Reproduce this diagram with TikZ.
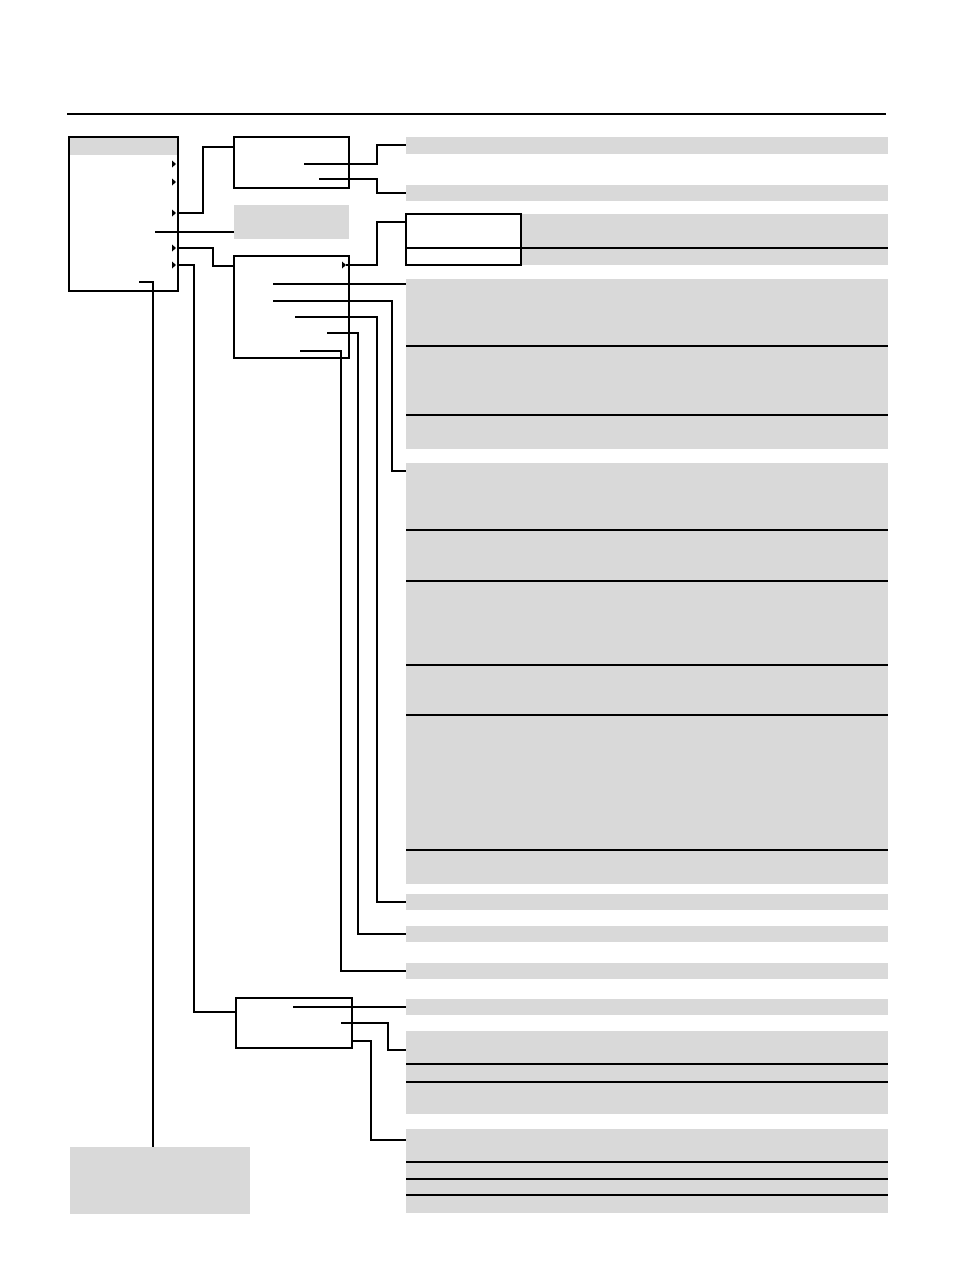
\documentclass[tikz,border=0pt]{standalone}
\usetikzlibrary{calc}
\definecolor{gfill}{HTML}{D9D9D9}
\tikzset{
  gbar/.style={fill=gfill, draw=none, inner sep=0pt, outer sep=0pt, minimum width=482pt},
  gbox/.style={fill=gfill, draw=none, inner sep=0pt, outer sep=0pt},
  obox/.style={draw=black, line width=1.2pt, inner sep=0pt, outer sep=0pt},
  conn/.style={draw=black, line width=1.2pt},
  divider/.style={draw=black, line width=1.2pt},
  tri/.style={fill=black}
}
\newcommand{\rtri}[2]{\fill[tri] (#1,#2-3.5) -- (#1+4,#2) -- (#1,#2+3.5) -- cycle;}
\begin{document}
\begin{tikzpicture}[x=1pt,y=-1pt]
\useasboundingbox (0,0) rectangle (954,1274);
% top rule
\coordinate (ruleL) at (67,114);
\coordinate (ruleR) at (886,114);
\draw[conn] (ruleL) -- (ruleR);

% right gray bars
\node[gbar, minimum height=17pt] (R1) at (647,145.5) {};
\node[gbar, minimum height=16pt] (R2) at (647,193) {};
\node[gbar, minimum height=51pt] (R3) at (647,239.5) {};
\node[gbar, minimum height=170pt] (R4) at (647,364) {};
\node[gbar, minimum height=421pt] (R5) at (647,673.5) {};
\node[gbar, minimum height=16pt] (R6) at (647,902) {};
\node[gbar, minimum height=16pt] (R7) at (647,934) {};
\node[gbar, minimum height=16pt] (R8) at (647,971) {};
\node[gbar, minimum height=16pt] (R9) at (647,1007) {};
\node[gbar, minimum height=83pt] (R10) at (647,1072.5) {};
\node[gbar, minimum height=84pt] (R11) at (647,1171) {};

% dividers
\foreach \yy in {248} {\draw[divider] (R3.west |- 0,\yy) -- (R3.east |- 0,\yy);}
\foreach \yy in {346,415} {\draw[divider] (R4.west |- 0,\yy) -- (R4.east |- 0,\yy);}
\foreach \yy in {530,581,665,715,850} {\draw[divider] (R5.west |- 0,\yy) -- (R5.east |- 0,\yy);}
\foreach \yy in {1064,1082} {\draw[divider] (R10.west |- 0,\yy) -- (R10.east |- 0,\yy);}
\foreach \yy in {1162,1179,1195} {\draw[divider] (R11.west |- 0,\yy) -- (R11.east |- 0,\yy);}

% left column
\node[gbox, minimum width=109pt, minimum height=18pt] (Ahead) at (123.5,146) {};
\node[obox, minimum width=109pt, minimum height=154pt] (A) at (123.5,214) {};
\node[obox, minimum width=115pt, minimum height=51pt] (B1) at (291.5,162.5) {};
\node[gbox, minimum width=115pt, minimum height=34pt] (B2) at (291.5,222) {};
\node[obox, minimum width=115pt, minimum height=102pt] (B3) at (291.5,307) {};
\node[obox, minimum width=116pt, minimum height=50pt] (B4) at (294,1023) {};
\node[gbox, minimum width=180pt, minimum height=67pt] (G) at (160,1180.5) {};
% white box C over R3
\node[obox, fill=white, minimum width=115pt, minimum height=51pt] (C) at (463.5,239.5) {};
\draw[divider] (C.west |- 0,248) -- (C.east |- 0,248);

% arrowheads in A
\rtri{172}{164}
\rtri{172}{182}
\rtri{172}{213}
\rtri{172}{248}
\rtri{172}{265}
% arrowhead in B3
\rtri{342}{265}

% inner start points
\coordinate (a2) at (155,232);
\coordinate (a5) at (139,282);
\coordinate (b1a) at (304,164);
\coordinate (b1b) at (319,179);
\coordinate (b3a) at (273,284);
\coordinate (b3b) at (273,301);
\coordinate (b3c) at (295,317);
\coordinate (b3d) at (327,333);
\coordinate (b3e) at (300,351);
\coordinate (b3t) at (346,265);
\coordinate (b4a) at (293,1007);
\coordinate (b4b) at (341,1023);

% connectors from A
\draw[conn] (A.east |- 0,213) -- (203,213) -- (203,147) -- (B1.west |- 0,147);
\draw[conn] (a2) -- (B2.west |- a2);
\draw[conn] (A.east |- 0,248) -- (213,248) -- (213,266) -- (B3.west |- 0,266);
\draw[conn] (A.east |- 0,265) -- (194,265) -- (194,1012) -- (B4.west |- 0,1012);
\draw[conn] (a5) -- (153,282) -- (G.north -| 153,0);

% connectors from B1
\draw[conn] (b1a) -- (377,164) -- (377,145) -- (R1.west |- 0,145);
\draw[conn] (b1b) -- (377,179) -- (377,193) -- (R2.west |- 0,193);

% connectors from B3
\draw[conn] (b3t) -- (377,265) -- (377,222) -- (C.west |- 0,222);
\draw[conn] (b3a) -- (R4.west |- b3a);
\draw[conn] (b3b) -- (392,301) -- (392,471) -- (R5.west |- 0,471);
\draw[conn] (b3c) -- (377,317) -- (377,902) -- (R6.west);
\draw[conn] (b3d) -- (358,333) -- (358,934) -- (R7.west);
\draw[conn] (b3e) -- (341,351) -- (341,971) -- (R8.west);

% connectors from B4
\draw[conn] (b4a) -- (R9.west);
\draw[conn] (b4b) -- (388,1023) -- (388,1050) -- (R10.west |- 0,1050);
\draw[conn] (B4.east |- 0,1041) -- (371,1041) -- (371,1140) -- (R11.west |- 0,1140);
\end{tikzpicture}
\end{document}
